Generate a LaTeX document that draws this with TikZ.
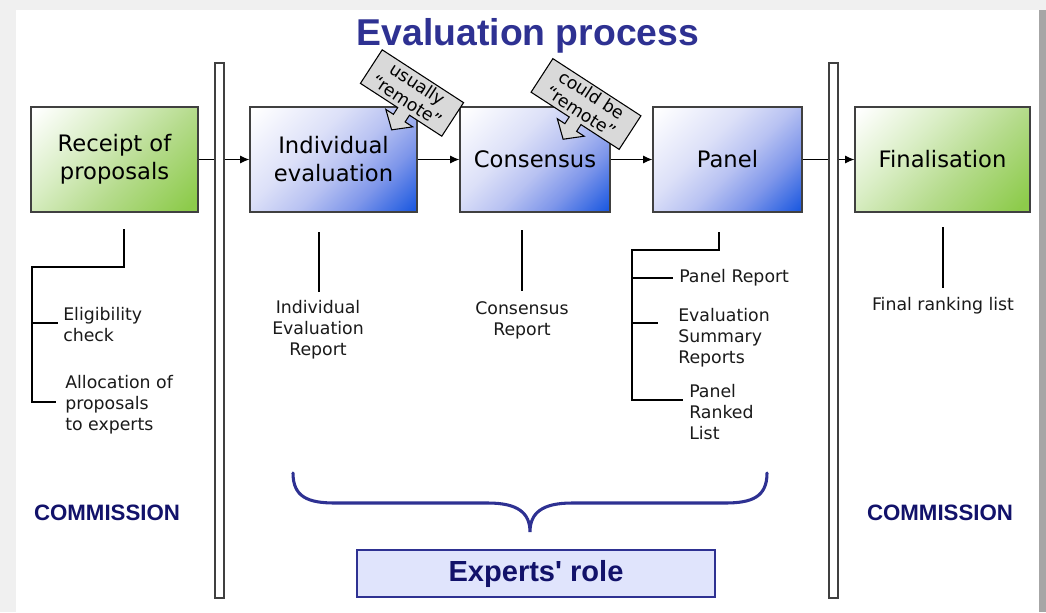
\documentclass[tikz,border=0pt]{standalone}
\usepackage{fontspec}
\setmainfont{DejaVu Sans}
\newfontfamily\arialf{Liberation Sans}
\usetikzlibrary{arrows.meta}
\definecolor{navy}{HTML}{2E3192}
\definecolor{navyd}{HTML}{12126A}
\definecolor{gfill}{HTML}{8DCB4B}
\definecolor{gmida}{HTML}{B5DB8C}
\definecolor{gmidb}{HTML}{DAEEC6}
\definecolor{bfill}{HTML}{1E5AE0}
\definecolor{bmida}{HTML}{7E96EA}
\definecolor{bmidb}{HTML}{B8C2F2}
\definecolor{bmidc}{HTML}{DCE0F8}
\definecolor{calloutgray}{HTML}{D9D9D9}
\definecolor{rolefill}{HTML}{E0E4FC}
\definecolor{edge}{HTML}{404040}
\definecolor{txt}{HTML}{1A1A1A}
\pgfdeclareverticalshading{blueshade}{100bp}{color(0bp)=(bfill); color(16bp)=(bfill);
  color(32bp)=(bmida); color(46bp)=(bmidb); color(60bp)=(bmidc); color(84bp)=(white); color(100bp)=(white)}
\pgfdeclareverticalshading{greenshade}{100bp}{color(0bp)=(gfill); color(18bp)=(gfill);
  color(42bp)=(gmida); color(62bp)=(gmidb); color(84bp)=(white); color(100bp)=(white)}
\begin{document}
\begin{tikzpicture}[x=0.75pt,y=-0.75pt,
  box/.style={draw=edge, line width=0.8pt, minimum height=78.75pt, inner sep=0pt,
    font=\fontsize{17}{21}\selectfont, align=center},
  gbox/.style={box, shading=greenshade, shading angle=45},
  bbox/.style={box, shading=blueshade, shading angle=45},
  bar/.style={draw=edge, line width=0.8pt, fill=white, minimum width=6.75pt,
    minimum height=401.25pt, inner sep=0pt},
  conn/.style={draw=black, line width=0.8pt},
  arr/.style={conn, -{Latex[length=7pt,width=6pt]}},
  sub/.style={inner sep=0pt, text=txt, font=\fontsize{13}{15.75}\selectfont},
  callout/.style={draw=black, line width=0.8pt, fill=calloutgray},
  calltext/.style={transform shape, inner sep=0pt, align=center, font=\fontsize{13}{15}\selectfont},
  comm/.style={inner sep=0pt, text=navyd, font=\arialf\bfseries\fontsize{16.7}{20}\selectfont},
  brace/.style={draw=navy, line width=2.3pt, line cap=round}
]
\useasboundingbox (0,0) rectangle (1046,612);
% slide background
\fill[gray!12] (0,0) rectangle (1046,612);
\fill[white] (16,10) rectangle (1039,612);
\fill[gray!70] (1039,10) rectangle (1046,612);

% title
\node[text=navy, font=\arialf\bfseries\fontsize{28}{32}\selectfont] (title) at (528,36) {Evaluation process};

% bars
\node[bar] (bar1) at (219.5,330.5) {};
\node[bar] (bar2) at (833.5,330.5) {};

% main boxes
\node[gbox, minimum width=125.25pt] (rec) at (114.5,159.5) {Receipt of\\proposals};
\node[bbox, minimum width=125.25pt] (ind) at (333.5,159.5) {Individual\\evaluation};
\node[bbox, minimum width=112.5pt] (con) at (535,159.5) {Consensus};
\node[bbox, minimum width=111.75pt] (pan) at (727.5,159.5) {Panel};
\node[gbox, minimum width=131.25pt] (fin) at (942.5,159.5) {Finalisation};

% connectors
\draw[conn] (rec.east) -- (rec.east -| bar1.west);
\draw[arr] (rec.east -| bar1.east) -- (ind.west);
\draw[arr] (ind.east) -- (con.west);
\draw[arr] (con.east) -- (pan.west);
\draw[conn] (pan.east) -- (pan.east -| bar2.west);
\draw[arr] (pan.east -| bar2.east) -- (fin.west);

% callouts
\begin{scope}[shift={(412,93)}, rotate=-33]
  \draw[callout] (-48.5,-20) -- (48.5,-20) -- (48.5,20) -- (10,20) -- (10,28) -- (19,28)
    -- (3,42) -- (-13,28) -- (-4,28) -- (-4,20) -- (-48.5,20) -- cycle;
  \node[calltext] (call1) at (0,-1) {usually\\“remote”};
\end{scope}
\begin{scope}[shift={(586,104)}, rotate=-33]
  \draw[callout] (-52.5,-20) -- (52.5,-20) -- (52.5,20) -- (7,20) -- (7,28) -- (16,28)
    -- (0,42) -- (-16,28) -- (-7,28) -- (-7,20) -- (-52.5,20) -- cycle;
  \node[calltext] (call2) at (0,-1) {could be\\“remote”};
\end{scope}

% sub texts
\node[sub, align=left, anchor=west] (elig) at (63,325) {Eligibility\\check};
\node[sub, align=left, anchor=west] (alloc) at (65,405) {Allocation of\\proposals\\to experts};
\node[sub, align=center] (ier) at (318,330) {Individual\\Evaluation\\Report};
\node[sub, align=center] (cr) at (522,320) {Consensus\\Report};
\node[sub, align=left, anchor=west] (pr) at (679,278) {Panel Report};
\node[sub, align=left, anchor=west] (esr) at (678,338) {Evaluation\\Summary\\Reports};
\node[sub, align=left, anchor=west] (prl) at (689,412) {Panel\\Ranked\\List};
\node[sub, align=center] (frl) at (943,306) {Final ranking list};

% tree lines
\coordinate (r0) at (124,229);
\coordinate (e0) at (58,323);
\coordinate (a0) at (56,402);
\draw[conn] (r0) -- (124,267) -- (32,267) -- (32,402) -- (a0);
\draw[conn] (32,323) -- (e0);

\coordinate (i0) at (319,232);
\coordinate (i1) at (319,292);
\draw[conn] (i0) -- (i1);
\coordinate (c0) at (522,230);
\coordinate (c1) at (522,291);
\draw[conn] (c0) -- (c1);

\coordinate (p0) at (719,232);
\coordinate (pp) at (673,278);
\coordinate (pe) at (658,323);
\coordinate (pl) at (683,400);
\draw[conn] (p0) -- (719,250) -- (632,250) -- (632,400) -- (pl);
\draw[conn] (632,278) -- (pp);
\draw[conn] (632,323) -- (pe);

\coordinate (f0) at (943,227);
\coordinate (f1) at (943,288);
\draw[conn] (f0) -- (f1);

% COMMISSION labels
\node[comm] (comL) at (107,513) {COMMISSION};
\node[comm] (comR) at (940,513) {COMMISSION};

% brace
\draw[brace] (293,473) .. controls (293,497) and (308,503) .. (335,503) -- (488,503)
  .. controls (518,503) and (530,513) .. (530,532)
  .. controls (530,513) and (542,503) .. (572,503) -- (725,503)
  .. controls (752,503) and (767,497) .. (767,473);

% experts role
\node[draw=navy, line width=1.5pt, fill=rolefill, minimum width=268.5pt, minimum height=35.25pt,
  inner sep=0pt, text=navyd, font=\arialf\bfseries\fontsize{21.8}{26}\selectfont] (role) at (536,573.5)
  {Experts\textquotesingle\ role};
\end{tikzpicture}
\end{document}
